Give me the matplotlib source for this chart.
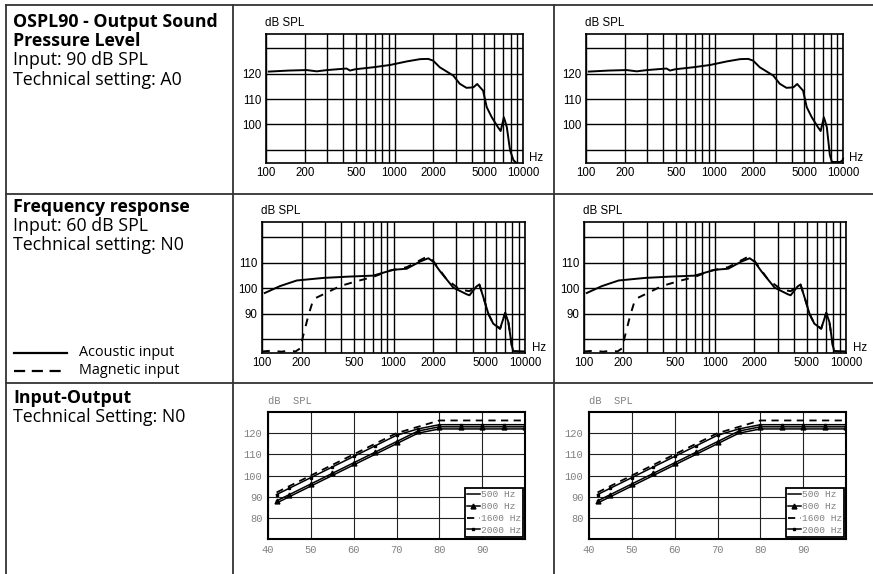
import matplotlib.pyplot as plt
import numpy as np

W, H = 873, 574

# OSPL90 curves (Hz, dB SPL)
ospl_freq_l = [105, 150, 207, 248, 300, 376, 424, 450, 493, 684, 923, 1247, 1580, 1830, 2000,
               2250, 2870, 3220, 3630, 4110, 4400, 4890, 5220, 5700, 6400, 6700, 7100, 7480,
               7930, 8430, 8800]
ospl_db_l = [120.8, 121.2, 121.4, 120.9, 121.4, 121.8, 122.0, 121.2, 121.7, 122.5, 123.4, 124.8,
             125.7, 125.8, 125.1, 122.5, 119.2, 116.0, 114.4, 114.6, 115.9, 113.3, 106.8, 102.9,
             98.8, 97.4, 102.8, 99.0, 89.8, 85.9, 85.0]
ospl_freq_r = ospl_freq_l[:-3] + [7900, 8200, 9500, 9900, 10000]
ospl_db_r = ospl_db_l[:-3] + [88.0, 85.2, 85.2, 85.8, 86.5]

# frequency response curves
fr_freq_ac = [105, 137, 184, 293, 450, 700, 1000, 1260, 1590, 1840, 2000, 2260, 2850, 3600,
              3780, 4280, 4500, 4960, 5270, 5730, 6460, 7070, 7480, 7920, 8130, 10000]
fr_db_ac = [98.2, 100.9, 103.1, 104.1, 104.6, 105.0, 107.3, 107.7, 110.5, 111.8, 110.5, 106.7,
            100.3, 97.7, 97.3, 100.8, 101.5, 94.5, 90.0, 86.2, 84.2, 90.4, 86.7, 77.8, 75.5, 75.3]
fr_freq_mg = [100, 120, 140, 160, 180, 195, 206, 225, 246, 310, 392, 524, 700, 940, 1260, 1790,
              2000, 2540, 3190, 3780, 4280, 4500, 4960, 5270, 5730, 6460, 7070, 7480, 7920, 8130]
fr_db_mg = [75.3, 75.6, 75.2, 75.6, 75.3, 76.5, 81.6, 89.3, 95.8, 98.3, 100.9, 102.8, 104.5,
            107.0, 108.3, 112.4, 110.8, 103.5, 99.6, 98.9, 100.8, 101.5, 94.5, 90.0, 86.2, 84.2,
            90.4, 86.7, 77.8, 75.5]

# input-output curves
io_input = [42, 45, 50, 55, 60, 65, 70, 75, 80, 85, 90, 95, 100]
io_500 = [87, 90, 95, 100, 105, 110, 115, 120, 122, 122, 122, 122, 122]
io_800 = [88, 91, 96, 101, 106, 111, 116, 121, 123, 123, 123, 123, 123]
io_1600 = [92, 95, 100, 105, 110, 115, 120, 123, 126, 126, 126, 126, 126]
io_2000 = [91, 94, 99, 104, 109, 114, 119, 122, 124, 124, 124, 124, 124]

freq_major = [100, 200, 500, 1000, 2000, 5000, 10000]
freq_minor = [300, 400, 600, 700, 800, 900, 3000, 4000, 6000, 7000, 8000, 9000]

TXT = "Open Sans"
SANS = "Liberation Sans"
MONO = "Liberation Mono"

fig = plt.figure(figsize=(W / 100, H / 100), dpi=100)

bg = fig.add_axes([0, 0, 1, 1])
bg.set_xlim(0, W)
bg.set_ylim(H, 0)
bg.axis("off")

# table grid
lc = "#333333"
bg.plot([6, W], [4.5, 4.5], color=lc, lw=1.3)
bg.plot([6, W], [194, 194], color=lc, lw=1.3)
bg.plot([6, W], [383, 383], color=lc, lw=1.3)
bg.plot([6, 6], [4.5, H], color=lc, lw=1.3)
bg.plot([233, 233], [4.5, H], color=lc, lw=1.3)
bg.plot([554, 554], [4.5, H], color=lc, lw=1.3)

fs = 12.8
bg.text(13, 22, "OSPL90 - Output Sound", family=TXT, fontweight="bold", fontsize=fs, va="center")
bg.text(13, 41, "Pressure Level", family=TXT, fontweight="bold", fontsize=fs, va="center")
bg.text(13, 60, "Input: 90 dB SPL", family=TXT, fontsize=fs, va="center")
bg.text(13, 80, "Technical setting: A0", family=TXT, fontsize=fs, va="center")
bg.text(13, 207, "Frequency response", family=TXT, fontweight="bold", fontsize=fs, va="center")
bg.text(13, 226, "Input: 60 dB SPL", family=TXT, fontsize=fs, va="center")
bg.text(13, 245, "Technical setting: N0", family=TXT, fontsize=fs, va="center")
bg.text(13, 398, "Input-Output", family=TXT, fontweight="bold", fontsize=fs, va="center")
bg.text(13, 417, "Technical Setting: N0", family=TXT, fontsize=fs, va="center")

bg.plot([14, 67], [353, 353], color="black", lw=1.6)
bg.plot([14, 67], [371, 371], color="black", lw=1.6, dashes=(5, 3))
bg.text(79, 352, "Acoustic input", family=TXT, fontsize=10.4, va="center")
bg.text(79, 370, "Magnetic input", family=TXT, fontsize=10.4, va="center")


def px_axes(l, t, r, b):
    return fig.add_axes([l / W, 1 - b / H, (r - l) / W, (b - t) / H])


def freq_axes(box, ylim, yticks, ylabels):
    ax = px_axes(*box)
    ax.set_xscale("log")
    ax.set_xlim(100, 10000)
    ax.set_ylim(*ylim)
    ax.set_xticks(freq_major)
    ax.set_xticklabels([str(f) for f in freq_major])
    ax.set_xticks(freq_minor, minor=True)
    ax.set_xticklabels([], minor=True)
    ax.set_yticks(yticks)
    ax.set_yticklabels(ylabels)
    ax.tick_params(which="both", length=0, labelsize=8.3, pad=3)
    for lab in ax.get_xticklabels() + ax.get_yticklabels():
        lab.set_family(SANS)
    ax.grid(True, which="both", color="black", lw=1.0)
    for s in ax.spines.values():
        s.set_linewidth(1.2)
    ax.text(-0.005, 1.04, "dB SPL", transform=ax.transAxes, family=SANS, fontsize=8.3,
            ha="left", va="bottom")
    ax.text(1.025, 0.04, "Hz", transform=ax.transAxes, family=SANS, fontsize=8.3,
            ha="left", va="center")
    return ax


row1_ticks = [90, 100, 110, 120, 130]
row1_labels = ["", "100", "110", "120", ""]
ax = freq_axes((266, 34, 523, 163), (84.8, 135.6), row1_ticks, row1_labels)
ax.plot(ospl_freq_l, ospl_db_l, color="black", lw=1.4)
ax = freq_axes((586, 34, 843, 163), (84.8, 135.6), row1_ticks, row1_labels)
ax.plot(ospl_freq_r, ospl_db_r, color="black", lw=1.4, clip_on=False)

row2_ticks = [80, 90, 100, 110, 120]
row2_labels = ["", "90", "100", "110", ""]
for box in [(262, 222, 525, 353), (584, 222, 846, 353)]:
    ax = freq_axes(box, (74.7, 126), row2_ticks, row2_labels)
    ax.plot(fr_freq_ac, fr_db_ac, color="black", lw=1.4)
    ax.plot(fr_freq_mg, fr_db_mg, color="black", lw=1.4, dashes=(4, 4))

for box in [(268, 412, 525, 539), (589, 412, 846, 539)]:
    ax = px_axes(*box)
    ax.set_xlim(40, 100)
    ax.set_ylim(70, 130)
    ax.set_xticks([40, 50, 60, 70, 80, 90])
    ax.set_yticks([80, 90, 100, 110, 120])
    ax.tick_params(length=0, labelsize=7.5, labelcolor="#808080", pad=4)
    for lab in ax.get_xticklabels() + ax.get_yticklabels():
        lab.set_family(MONO)
    ax.grid(True, color="#222222", lw=0.8)
    for s in ax.spines.values():
        s.set_linewidth(1.5)
    ax.plot(io_input, io_500, color="black", lw=1.1, label="500 Hz")
    ax.plot(io_input, io_800, color="black", lw=1.1, marker="^", ms=3.5, label="800 Hz")
    ax.plot(io_input, io_1600, color="black", lw=1.3, dashes=(4, 3), label="1600 Hz")
    ax.plot(io_input, io_2000, color="black", lw=1.1, marker="s", ms=2, label="2000 Hz")
    ax.text(0, 1.05, "dB  SPL", transform=ax.transAxes, family=MONO, fontsize=7.5,
            color="#808080", ha="left", va="bottom")
    leg = ax.legend(loc="lower right", prop={"family": MONO, "size": 6.8},
                    handlelength=1.3, handletextpad=0.1, labelspacing=0.3,
                    borderpad=0.25, borderaxespad=0.2, fancybox=False, framealpha=1)
    leg.get_frame().set_edgecolor("black")
    leg.get_frame().set_linewidth(1.3)
    for t in leg.get_texts():
        t.set_color("#808080")

fig.savefig("out.png", dpi=100)
